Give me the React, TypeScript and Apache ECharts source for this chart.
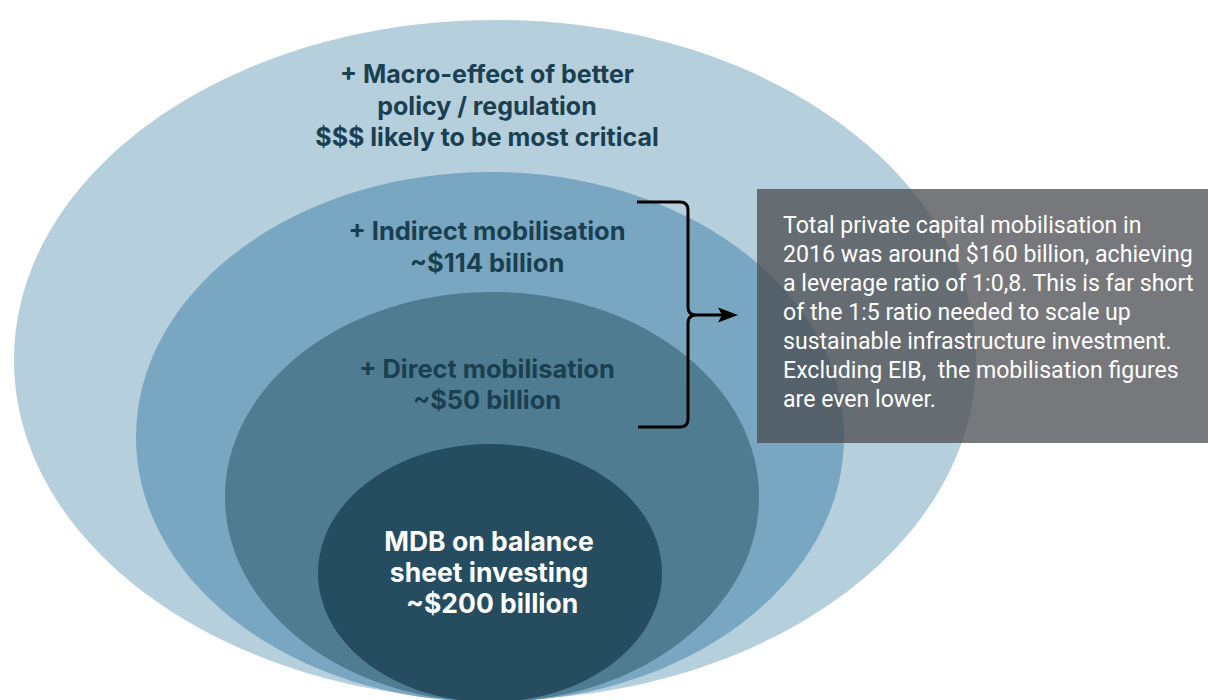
import React, { useEffect, useRef } from "react";
import * as echarts from "echarts";

// Layers, from outermost to innermost
const layerTitles = [
  "+ Macro-effect of better\npolicy / regulation\n$$$ likely to be most critical",
  "+ Indirect mobilisation\n~$114 billion",
  "+ Direct mobilisation\n~$50 billion",
  "MDB on balance\nsheet investing\n ~$200 billion",
];
const noteLines = [
  "Total private capital mobilisation in",
  "2016 was around $160 billion, achieving",
  "a leverage ratio of 1:0,8. This is far short",
  "of the 1:5 ratio needed to scale up",
  "sustainable infrastructure investment.",
  "Excluding EIB,  the mobilisation figures",
  "are even lower.",
];

// Layout / style (not data)
const ellipses = [
  { cx: 495, cy: 360, rx: 481, ry: 340, fill: "#b6cfdc" },
  { cx: 490, cy: 437, rx: 354, ry: 265, fill: "#79a7c1" },
  { cx: 492, cy: 497, rx: 267, ry: 205, fill: "#4f7c91" },
  { cx: 490, cy: 573, rx: 172, ry: 129, fill: "#264d5f" },
];
const labelPos = [
  { x: 487, y: 105.5, lh: 31.5, size: 25, color: "#1a3f50" },
  { x: 487, y: 246, lh: 32, size: 25.5, color: "#1a3f50" },
  { x: 487, y: 383.5, lh: 31, size: 25.4, color: "#1a3f50" },
  { x: 489, y: 572, lh: 31, size: 26.5, color: "#ffffff" },
];

const braceD =
  "M637,202 H680 Q688,202 688,210 V307 Q688,315 696,315 Q688,315 688,323 V419 Q688,427 680,427 H638 M696,315 H726";

let registered = false;

export default function App() {
  const ref = useRef<HTMLDivElement>(null);
  useEffect(() => {
    if (!ref.current) return;
    if (!registered) {
      echarts.graphic.registerShape("brace", echarts.graphic.extendPath(braceD, {}) as any);
      registered = true;
    }
    const chart = echarts.init(ref.current, null, { renderer: "svg" });
    const elements: any[] = [];
    ellipses.forEach((e) => {
      elements.push({
        type: "ellipse",
        shape: { cx: e.cx, cy: e.cy, rx: e.rx, ry: e.ry },
        style: { fill: e.fill },
        silent: true,
      });
    });
    layerTitles.forEach((t, i) => {
      const p = labelPos[i];
      elements.push({
        type: "text",
        x: p.x,
        y: p.y,
        style: {
          text: t,
          fill: p.color,
          fontFamily: "Inter",
          fontWeight: "bold",
          fontSize: p.size,
          lineHeight: p.lh,
          align: "center",
          verticalAlign: "middle",
        },
      });
    });
    elements.push({
      type: "brace",
      x: 0,
      y: 0,
      style: { fill: null, stroke: "#000", lineWidth: 3, lineJoin: "round" },
    });
    elements.push({
      type: "polygon",
      shape: { points: [[718, 307.5], [738, 315], [718, 322.5], [722, 315]] },
      style: { fill: "#000" },
    });
    elements.push({
      type: "rect",
      shape: { x: 757, y: 189, width: 451, height: 254 },
      style: { fill: "rgba(74,75,79,0.75)" },
    });
    elements.push({
      type: "text",
      x: 783,
      y: 210.5,
      style: {
        text: noteLines.join("\n"),
        fill: "#ffffff",
        fontFamily: "Roboto",
        fontSize: 23.1,
        lineHeight: 29,
        align: "left",
        verticalAlign: "top",
      },
    });
    chart.setOption({ animation: false, graphic: { elements } });
    return () => chart.dispose();
  }, []);
  return (
    <div
      ref={ref}
      style={{ position: "absolute", left: 0, top: 0, width: 1208, height: 700 }}
    />
  );
}
